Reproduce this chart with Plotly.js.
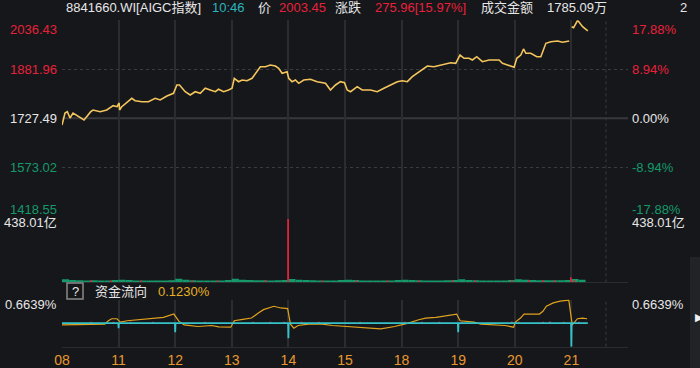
<!DOCTYPE html>
<html>
<head>
<meta charset="utf-8">
<script src="https://cdn.plot.ly/plotly-3.0.1.min.js"></script>
<style>html,body{margin:0;padding:0;background:#16171b;}#chart{width:700px;height:368px;}</style>
</head>
<body>
<div id="chart"></div>
<script>
// ---------------- data ----------------
const days = ['08','11','12','13','14','15','18','19','20','21'];
const priceLevels = [2036.43, 1881.96, 1727.49, 1573.02, 1418.55];
const pctLabels = ['17.88%', '8.94%', '0.00%', '-8.94%', '-17.88%'];
const volMaxLabel = '438.01亿';
const flowMaxLabel = '0.6639%';
const flowMax = 0.6639;
const volMax = 438.01;

const code = '8841660.WI[AIGC指数]';
const timeNow = '10:46';
const lastPrice = '2003.45';
const change = '275.96[15.97%]';
const amount = '1785.09万';
const flowNow = '0.1230%';

// price: time in trading days from the start, value
const priceT = [0.00,0.053,0.094,0.142,0.195,0.283,0.389,0.508,0.549,0.673,0.791,0.903,0.973,
  1.009,1.018,1.056,1.145,1.233,1.292,1.411,1.527,1.646,1.735,1.853,1.970,
  2.030,2.076,2.177,2.265,2.354,2.442,2.531,2.619,2.708,2.766,2.855,2.943,
  3.004,3.044,3.120,3.181,3.269,3.358,3.416,3.504,3.593,3.681,3.770,3.828,3.889,3.977,
  4.005,4.065,4.124,4.182,4.271,4.389,4.508,4.655,4.743,4.832,4.920,4.991,
  5.039,5.097,5.216,5.304,5.451,5.570,5.687,5.805,5.924,
  6.012,6.101,6.189,6.278,6.366,6.454,6.571,6.690,6.809,6.867,6.956,
  7.032,7.103,7.191,7.251,7.327,7.428,7.545,7.722,7.782,7.871,7.988,
  8.035,8.106,8.154,8.195,8.283,8.389,8.460,8.508,8.549,8.637,8.756,8.844,8.961,
  8.99,
  9.005,9.039,9.110,9.198,9.29];
const priceV = [1706.4,1744.2,1748.3,1728.4,1744.2,1734.7,1722.1,1748.3,1753.6,1748.3,1753.6,1767.2,1764.1,
  1775.7,1753.6,1764.1,1776.7,1790.5,1783.0,1779.8,1779.8,1790.5,1785.2,1797.8,1806.3,
  1832.5,1832.5,1811.3,1800.9,1811.3,1806.3,1822.1,1816.7,1811.3,1818.9,1811.3,1816.7,
  1822.1,1853.6,1842.9,1848.2,1846.0,1853.6,1869.4,1890.2,1890.2,1895.5,1892.4,1885.1,1869.4,1874.4,
  1853.6,1842.9,1848.2,1837.8,1848.2,1850.4,1842.9,1837.8,1816.7,1832.5,1842.9,1839.7,
  1816.7,1811.3,1827.1,1816.7,1816.7,1811.3,1822.1,1832.5,1842.9,
  1846.0,1842.9,1858.6,1869.4,1879.8,1892.4,1890.2,1895.5,1898.7,1902.8,1900.9,
  1927.0,1916.6,1916.6,1911.3,1921.7,1905.9,1911.3,1911.3,1900.9,1895.5,1888.3,
  1916.6,1927.0,1946.0,1932.4,1932.4,1921.7,1921.7,1948.2,1963.9,1969.0,1971.2,1967.1,1971.2,
  null,
  2016.3,2013.1,2036.4,2016.3,2003.45];

// volume (亿), half-hour blocks
const volStrip = [20,16,14,13,14,13,12,15, 18,15,13,12,13,12,12,14, 24,17,14,13,13,12,13,15,
  24,18,15,14,14,13,14,16, 22,18,15,14,13,13,13,15, 18,15,13,12,12,12,13,15,
  18,16,14,13,13,13,14,16, 20,16,14,13,13,12,13,15, 20,17,15,14,14,14,14,16, 22,18];
const volUpT = [0.51,0.86,1.40,2.30,2.75,3.60,4.60,5.20,5.75,6.30,6.90,7.30,7.95,8.25,8.50,8.70,9.05];
const volUpV = [14,13,12,13,13,14,13,12,12,13,14,13,14,14,14,14,16];
const volSpikeT = [3.995, 8.99];
const volSpikeV = [432, 34];

// fund flow (%): cumulative line
const flowT = [0.0,0.452,0.757,0.818,0.879,0.970,1.031,1.153,1.366,1.671,1.793,1.976,
  2.067,2.159,2.403,2.646,2.768,2.982,3.043,3.195,3.347,3.469,3.560,3.743,3.865,3.987,
  4.036,4.097,4.170,4.353,4.597,4.779,5.023,5.328,5.633,5.876,5.998,
  6.120,6.303,6.425,6.608,6.790,6.973,7.034,7.278,7.400,7.644,7.827,7.979,
  8.010,8.101,8.162,8.436,8.497,8.558,8.680,8.802,8.954,9.015,9.107,9.198,9.277];
const flowV = [-0.048,-0.048,-0.029,0.066,0.123,0.123,0.027,0.066,0.095,0.123,0.160,0.255,
  0.047,-0.048,-0.096,-0.067,-0.105,-0.115,0.066,0.104,0.142,0.284,0.378,0.474,0.426,0.407,
  -0.029,-0.144,-0.067,-0.029,-0.029,-0.067,-0.096,-0.124,-0.163,-0.096,-0.048,
  0.0,0.095,0.142,0.160,0.217,0.255,0.066,0.027,-0.029,-0.048,-0.067,-0.115,
  0.027,0.142,0.255,0.255,0.331,0.474,0.569,0.616,0.645,-0.048,0.123,0.142,0.123];
// net flow per minute (%): outflow spikes at the opens
const netT = [0,0.995,1.0,1.005,1.995,2.0,2.005,3.995,4.0,4.005,6.995,7.0,7.005,8.995,9.0,9.005,9.29];
const netV = [0,0,-0.144,0,0,-0.257,0,0,-0.427,0,0,-0.257,0,0,-0.664,0,0];
const inflowT = [0.513,0.909,1.214,1.610,2.524,3.043,3.378,3.682,3.926,4.231,4.536,5.267,6.059,6.364,6.669,7.065,7.948,8.070,8.497,8.619,8.863,9.137];
const inflowV = [0.04,0.04,0.035,0.04,0.04,0.045,0.04,0.04,0.035,0.04,0.04,0.035,0.04,0.04,0.035,0.04,0.045,0.04,0.04,0.045,0.04,0.04];

// ---------------- styling ----------------
const W = 700, H = 368;
const BG = '#16171b', GRID = '#2b2c30', DOT = '#3a3b40';
const RED = '#e8213a', GREEN = '#15996a', WHITE = '#e6e6e6', YEL = '#f3c55c', ORANGE = '#e8982e';
const FONT = 'Liberation Sans, Arial, Noto Sans CJK SC, sans-serif';
const px = v => v / W, py = v => 1 - v / H;

const halfT = volStrip.map((_, i) => (i + 0.5) / 8);

const traces = [
  {x: priceT, y: priceV, type: 'scatter', mode: 'lines', line: {color: YEL, width: 1.6}, xaxis: 'x', yaxis: 'y', connectgaps: false, hoverinfo: 'skip'},
  {x: halfT, y: volStrip, type: 'bar', width: 0.125, marker: {color: GREEN, line: {width: 0}}, xaxis: 'x', yaxis: 'y2', hoverinfo: 'skip'},
  {x: volUpT, y: volUpV, type: 'bar', width: 0.03, marker: {color: RED, line: {width: 0}}, xaxis: 'x', yaxis: 'y2', hoverinfo: 'skip'},
  {x: volSpikeT, y: volSpikeV, type: 'bar', width: 0.03, marker: {color: RED, line: {width: 0}}, xaxis: 'x', yaxis: 'y2', hoverinfo: 'skip'},
  {x: flowT, y: flowV, type: 'scatter', mode: 'lines', line: {color: '#e0a21e', width: 1.2}, xaxis: 'x', yaxis: 'y3', hoverinfo: 'skip'},
  {x: netT, y: netV, type: 'scatter', mode: 'lines', line: {color: '#35c2c9', width: 1.8}, xaxis: 'x', yaxis: 'y3', hoverinfo: 'skip'},
  {x: inflowT, y: inflowV, type: 'bar', width: 0.03, base: 0, marker: {color: RED, line: {width: 0}}, xaxis: 'x', yaxis: 'y3', hoverinfo: 'skip'}
];

const ann = [];
const txt = (text, x, y, color, opts) => ann.push(Object.assign({text, x: px(x), y: py(y), xref: 'paper', yref: 'paper',
  showarrow: false, xanchor: 'left', yanchor: 'middle', font: {family: FONT, size: 13, color}}, opts || {}));

// header
txt(code, 64, 8, WHITE);
txt(timeNow, 210, 8, '#2bb5bd');
txt('价', 256, 8, WHITE);
txt(lastPrice, 277, 8, RED);
txt('涨跌', 333, 8, WHITE);
txt(change, 373, 8, RED);
txt('成交金额', 479, 8, WHITE);
txt(amount, 545, 8, WHITE);
txt('2', 678, 8, WHITE);

// price axis labels
const lvlColor = [RED, RED, WHITE, GREEN, GREEN];
priceLevels.forEach((v, i) => {
  const ya = i === 0 ? 'top' : (i === priceLevels.length - 1 ? 'bottom' : 'middle');
  const ys = i === priceLevels.length - 1 ? -3 : 0;
  ann.push({text: v.toFixed(2), x: px(59), y: v, xref: 'paper', yref: 'y', xanchor: 'right', yanchor: ya, yshift: ys,
    showarrow: false, font: {family: FONT, size: 13, color: lvlColor[i]}});
  ann.push({text: pctLabels[i], x: px(630), y: v, xref: 'paper', yref: 'y', xanchor: 'left', yanchor: ya, yshift: ys,
    showarrow: false, font: {family: FONT, size: 13, color: lvlColor[i]}});
});
// volume labels
txt(volMaxLabel, 59, 222.5, WHITE, {xanchor: 'right'});
txt(volMaxLabel, 630, 222.5, WHITE);
// flow labels
txt(flowMaxLabel, 59, 304, WHITE, {xanchor: 'right'});
txt(flowMaxLabel, 630, 304, WHITE);
// flow header
txt('?', 75, 291, WHITE, {xanchor: 'center'});
txt('资金流向', 93, 291, WHITE);
txt(flowNow, 156, 291, '#e8b020');
txt('▶', 693, 317, '#f0f0f0', {font: {family: 'DejaVu Sans', size: 11, color: '#f0f0f0'}});

const shapes = [
  {type: 'rect', xref: 'paper', yref: 'paper', x0: px(690), x1: 1, y0: 0, y1: py(257), fillcolor: '#222327', line: {width: 0}, layer: 'below'},
  {type: 'rect', xref: 'paper', yref: 'paper', x0: px(67), x1: px(83), y0: py(299), y1: py(283), line: {color: '#8a8a8a', width: 1.5}},
  {type: 'line', xref: 'x', yref: 'y', x0: 0, x1: 10, y0: priceLevels[2], y1: priceLevels[2], line: {color: '#37383c', width: 2}, layer: 'below'}
];
['y domain', 'y2 domain', 'y3 domain'].forEach(r => shapes.push(
  {type: 'line', xref: 'x', yref: r, x0: 9.61, x1: 9.61, y0: 0, y1: 1, line: {color: DOT, width: 1, dash: 'dot'}, layer: 'below'}));

const layout = {
  width: W, height: H, margin: {l: 0, r: 0, t: 0, b: 0},
  paper_bgcolor: BG, plot_bgcolor: BG, showlegend: false, barmode: 'overlay',
  font: {family: FONT, color: WHITE},
  xaxis: {domain: [px(62), px(628)], range: [0, 10], anchor: 'y3', tickmode: 'array',
    tickvals: days.map((_, i) => i).concat([10]), ticktext: days.concat(['']),
    showgrid: true, gridcolor: GRID, gridwidth: 2, zeroline: false, showline: true, linecolor: GRID, linewidth: 1,
    ticks: '', tickfont: {family: FONT, size: 14, color: ORANGE}, fixedrange: true},
  yaxis: {domain: [py(216.3), py(20.3)], range: [priceLevels[4], priceLevels[0]], tickmode: 'array',
    tickvals: [priceLevels[0], priceLevels[4]], showticklabels: false, showgrid: true, gridcolor: GRID, gridwidth: 1,
    minor: {tickmode: 'array', tickvals: [priceLevels[1], priceLevels[3]], showgrid: true, gridcolor: DOT, griddash: 'dot', gridwidth: 1},
    zeroline: false, fixedrange: true},
  yaxis2: {domain: [py(282.3), py(216.3)], range: [0, 450], showticklabels: false, showgrid: false,
    zeroline: true, zerolinecolor: GRID, zerolinewidth: 1.5, fixedrange: true},
  yaxis3: {domain: [py(346.7), py(299.5)], range: [-flowMax, flowMax], showticklabels: false, showgrid: false,
    zeroline: false, fixedrange: true},
  annotations: ann, shapes: shapes
};

Plotly.newPlot('chart', traces, layout, {staticPlot: true, displayModeBar: false});
</script>
</body>
</html>
